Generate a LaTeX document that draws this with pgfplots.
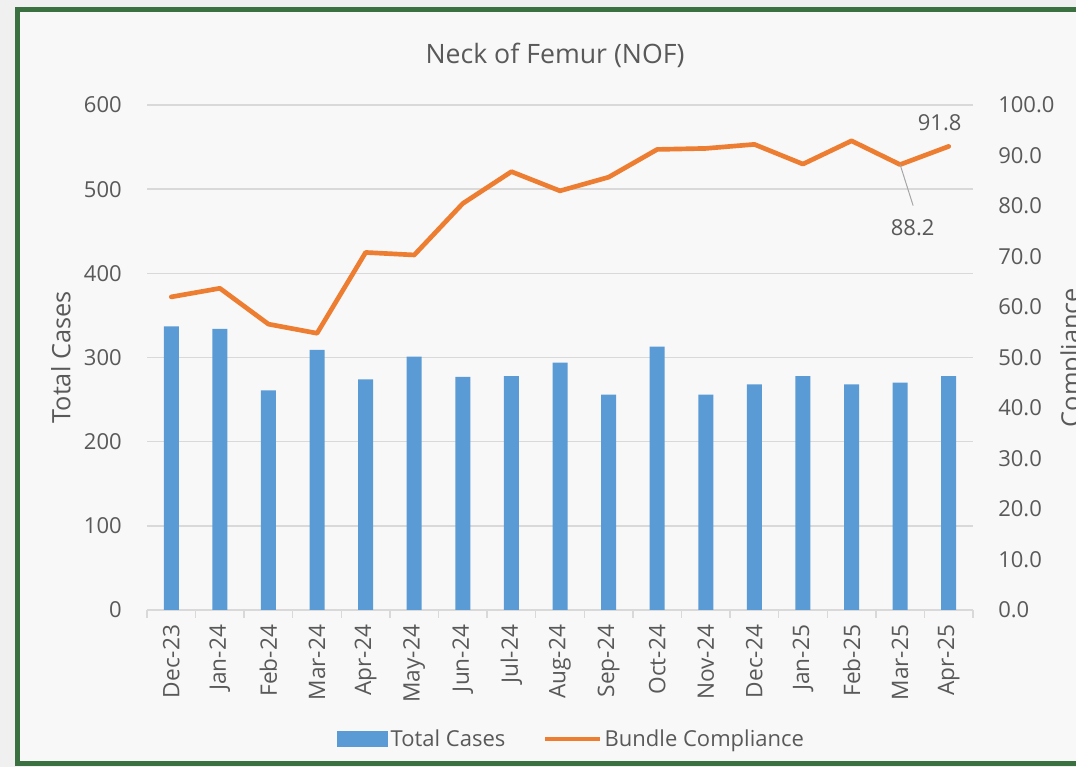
\documentclass[border=0pt]{standalone}
\usepackage{fontspec}
\setmainfont{Open Sans}
\usepackage{pgfplots}
\pgfplotsset{compat=1.18}
\definecolor{barblue}{HTML}{5B9BD5}
\definecolor{lineorange}{HTML}{ED7D31}
\definecolor{gridgray}{HTML}{D9D9D9}
\definecolor{textgray}{HTML}{595959}
\definecolor{framegreen}{HTML}{3B7041}
\definecolor{outerbg}{HTML}{F0F0F0}
\definecolor{innerbg}{HTML}{F8F8F8}
\definecolor{leadergray}{HTML}{A6A6A6}
\begin{document}
\begin{tikzpicture}[x=0.75pt,y=0.75pt]
\useasboundingbox (0,0) rectangle (1076,767);
\clip (0,0) rectangle (1076,767);
\fill[outerbg] (0,0) rectangle (1076,767);
\fill[innerbg] (17.5,3) rectangle (1090,757.5);
\draw[framegreen, line width=3.75pt] (17.5,3) rectangle (1090,757.5);

\begin{axis}[
  at={(110.25pt,117.75pt)}, anchor=south west,
  width=619.5pt, height=378.75pt, scale only axis,
  xmin=-0.5, xmax=16.5, ymin=0, ymax=600,
  ytick={0,100,...,600},
  xtick={0,...,16},
  xticklabels={Dec-23,Jan-24,Feb-24,Mar-24,Apr-24,May-24,Jun-24,Jul-24,Aug-24,Sep-24,Oct-24,Nov-24,Dec-24,Jan-25,Feb-25,Mar-25,Apr-25},
  minor xtick={-0.5,0.5,...,16.5},
  axis x line*=bottom, axis y line*=left,
  x axis line style={draw=gridgray, line width=1.1pt, -},
  y axis line style={draw=none},
  tick align=outside, major tick length=0pt, minor tick length=6pt,
  every minor tick/.style={draw=gridgray, line width=1.1pt},
  ymajorgrids, xmajorgrids=false, xminorgrids=false,
  major grid style={draw=gridgray, line width=1.1pt},
  /pgf/number format/assume math mode=true,
  ticklabel style={font=\fontsize{16.5}{18}\selectfont, text=textgray},
  yticklabel style={inner sep=0pt, anchor=east},
  yticklabel shift=18.75pt,
  xticklabel style={inner sep=0pt, rotate=90, anchor=east, font=\fontsize{17}{18}\selectfont},
  xticklabel shift=11pt,
  ylabel={Total Cases},
  every axis y label/.style={at={(axis description cs:0,0.5)}, xshift=-64.5pt, rotate=90, anchor=center, font=\fontsize{19}{22}\selectfont, text=textgray},
  title={Neck of Femur (NOF)},
  every axis title/.style={at={(axis description cs:0.5,1.099)}, anchor=center, xshift=-3.75pt, font=\fontsize{20}{24}\selectfont, text=textgray},
  legend style={at={(axis description cs:0.5145,-0.2554)}, anchor=center, draw=none, fill=none, font=\fontsize{16.5}{18}\selectfont, text=textgray, /tikz/every even column/.append style={column sep=26pt}},
  legend columns=2, legend cell align=left,
]
\addplot[ybar, bar width=11.25pt, fill=barblue, draw=none,
  legend image code/.code={\fill[barblue] (0pt,-6pt) rectangle (38pt,6pt);}]
  coordinates {(0,337) (1,334) (2,261) (3,309) (4,274) (5,301) (6,277) (7,278) (8,294) (9,256) (10,313) (11,256) (12,268) (13,278) (14,268) (15,270) (16,278)};
\addlegendentry{Total Cases}
\addlegendimage{lineorange, line width=3.5pt, legend image code/.code={\draw[lineorange, line width=3.5pt] (0pt,0pt) -- (41pt,0pt);}}
\addlegendentry{Bundle Compliance}
\end{axis}

\begin{axis}[
  at={(110.25pt,117.75pt)}, anchor=south west,
  width=619.5pt, height=378.75pt, scale only axis,
  xmin=-0.5, xmax=16.5, ymin=0, ymax=100,
  ytick={0,10,...,100},
  axis y line*=right, axis x line=none,
  y axis line style={draw=none},
  major tick length=0pt,
  /pgf/number format/assume math mode=true,
  ticklabel style={font=\fontsize{16.5}{18}\selectfont, text=textgray},
  yticklabel style={inner sep=0pt, anchor=west},
  yticklabel shift=18.75pt,
  yticklabel={\pgfmathprintnumber[fixed,fixed zerofill,precision=1]{\tick}},
  ylabel={Compliance},
  every axis y label/.style={at={(axis description cs:1,0.5)}, xshift=75pt, rotate=90, anchor=center, font=\fontsize{19}{22}\selectfont, text=textgray},
]
\addplot[lineorange, line width=3.5pt, line join=round, line cap=round, mark=none]
  coordinates {(0,62.0) (1,63.7) (2,56.6) (3,54.8) (4,70.8) (5,70.3) (6,80.5) (7,86.8) (8,83.0) (9,85.7) (10,91.2) (11,91.4) (12,92.2) (13,88.3) (14,92.9) (15,88.2) (16,91.8)};
\node[font=\fontsize{16.5}{18}\selectfont, text=textgray, xshift=-6.75pt, yshift=18pt] at (axis cs:16,91.8) {91.8};
\draw[leadergray, line width=0.75pt] (axis cs:15,88.2) -- ++(9.75pt,-30.75pt);
\node[font=\fontsize{16.5}{18}\selectfont, text=textgray, xshift=9.4pt, yshift=-47.3pt] at (axis cs:15,88.2) {88.2};
\end{axis}
\end{tikzpicture}
\end{document}
